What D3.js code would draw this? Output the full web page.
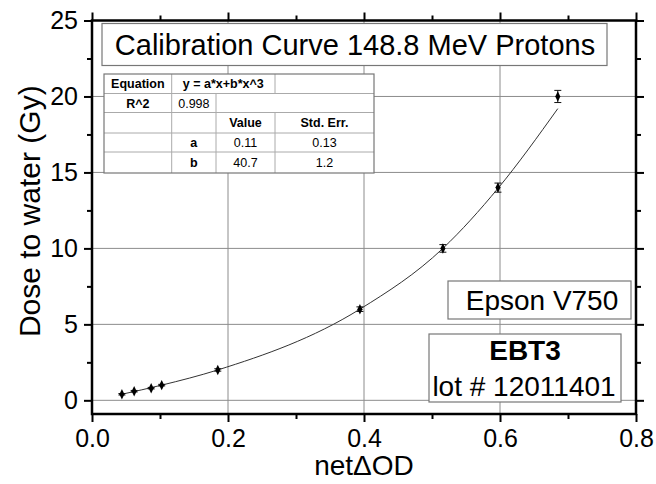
<!DOCTYPE html>
<html><head><meta charset="utf-8">
<script src="https://cdn.jsdelivr.net/npm/d3@7"></script>
<style>
body{margin:0;background:#fff}
svg{display:block}
text{font-family:"Liberation Sans",Arial,Helvetica,sans-serif;fill:#000}
</style>
</head><body>
<svg id="chart" width="656" height="484"></svg>
<script>
// ---- data ----
const netOD   = [0.044, 0.062, 0.087, 0.1025, 0.185, 0.394, 0.516, 0.597, 0.685];
const dose    = [0.4, 0.6, 0.8, 1.0, 2.0, 6.0, 10.0, 14.0, 20.0];
const doseErr = [0.05, 0.05, 0.05, 0.05, 0.08, 0.15, 0.25, 0.3, 0.4];
const fitOD   = [0.044, 0.1025, 0.185, 0.394, 0.516, 0.597, 0.685];
const fitDose = [0.4, 1.0, 2.0, 6.0, 10.0, 13.95, 19.2];
const xTicks  = [0, 0.2, 0.4, 0.6, 0.8];
const xMinor  = [0.1, 0.3, 0.5, 0.7];
const yTicks  = [0, 5, 10, 15, 20, 25];
const yMinor  = [2.5, 7.5, 12.5, 17.5, 22.5];
const xTitle  = "net\u0394OD";
const yTitle  = "Dose to water (Gy)";
const titleText   = "Calibration Curve 148.8 MeV Protons";
const scannerText = "Epson V750";
const filmText    = "EBT3";
const lotText     = "lot # 12011401";
const tableRow0 = ["Equation", "y = a*x+b*x^3", ""];
const tableRow1 = ["R^2", "0.998", ""];
const tableRow2 = ["", "", "Value", "Std. Err."];
const tableRow3 = ["", "a", "0.11", "0.13"];
const tableRow4 = ["", "b", "40.7", "1.2"];

// ---- layout ----
const svg = d3.select("#chart");
const L = 92, R = 636, T = 20.5, B = 414;
const x = d3.scaleLinear().domain([0, 0.8]).range([L, R]);
const y = d3.scaleLinear().domain([-0.9, 25]).range([B, T]);

// grid
const grid = svg.append("g").attr("stroke", "#8c8c8c").attr("stroke-width", 1);
grid.selectAll(".gy").data(yTicks.filter(d => d < 25)).enter().append("line")
  .attr("x1", L).attr("x2", R).attr("y1", d => y(d)).attr("y2", d => y(d));
grid.selectAll(".gx").data(xTicks.filter(d => d > 0 && d < 0.8)).enter().append("line")
  .attr("y1", T).attr("y2", B).attr("x1", d => x(d)).attr("x2", d => x(d));

// axes
function styleAxis(g, fs) {
  g.select(".domain").remove();
  g.selectAll(".tick line").attr("stroke", "#000").attr("stroke-width", 2);
  g.selectAll(".tick text").attr("font-size", fs).style("font-family", '"Liberation Sans",Arial,sans-serif').attr("fill", "#000");
}
const fmt = d3.format(".1f");
svg.append("g").attr("transform", `translate(0,${B})`)
  .call(d3.axisBottom(x).tickValues(xTicks).tickSize(8).tickPadding(7).tickFormat(fmt))
  .call(g => styleAxis(g, 25));
svg.append("g").attr("transform", `translate(0,${B})`)
  .call(d3.axisBottom(x).tickValues(xMinor).tickSize(5).tickFormat(""))
  .call(g => styleAxis(g, 0));
svg.append("g").attr("transform", `translate(0,${T})`)
  .call(d3.axisTop(x).tickValues(xTicks).tickSize(8).tickFormat(""))
  .call(g => styleAxis(g, 0));
svg.append("g").attr("transform", `translate(0,${T})`)
  .call(d3.axisTop(x).tickValues(xMinor).tickSize(5).tickFormat(""))
  .call(g => styleAxis(g, 0));
svg.append("g").attr("transform", `translate(${L},0)`)
  .call(d3.axisLeft(y).tickValues(yTicks).tickSize(8).tickPadding(6).tickFormat(d3.format("d")))
  .call(g => styleAxis(g, 25));
svg.append("g").attr("transform", `translate(${L},0)`)
  .call(d3.axisLeft(y).tickValues(yMinor).tickSize(5).tickFormat(""))
  .call(g => styleAxis(g, 0));
svg.append("g").attr("transform", `translate(${R},0)`)
  .call(d3.axisRight(y).tickValues(yTicks).tickSize(8).tickFormat(""))
  .call(g => styleAxis(g, 0));
svg.append("g").attr("transform", `translate(${R},0)`)
  .call(d3.axisRight(y).tickValues(yMinor).tickSize(5).tickFormat(""))
  .call(g => styleAxis(g, 0));

// frame
svg.append("rect").attr("x", L).attr("y", T).attr("width", R - L).attr("height", B - T)
  .attr("fill", "none").attr("stroke", "#000").attr("stroke-width", 2.5);

// fit curve
const fitPts = fitOD.map((d, i) => [d, fitDose[i]]);
svg.append("path").datum(fitPts)
  .attr("d", d3.line().x(d => x(d[0])).y(d => y(d[1])).curve(d3.curveMonotoneX))
  .attr("fill", "none").attr("stroke", "#333").attr("stroke-width", 1);

// error bars + points
const pts = netOD.map((d, i) => ({x: d, y: dose[i], e: doseErr[i]}));
const eb = svg.append("g").attr("stroke", "#111").attr("stroke-width", 1);
pts.forEach(p => {
  eb.append("line").attr("x1", x(p.x)).attr("x2", x(p.x)).attr("y1", y(p.y - p.e)).attr("y2", y(p.y + p.e));
  [p.y - p.e, p.y + p.e].forEach(v => eb.append("line")
    .attr("x1", x(p.x) - 3.5).attr("x2", x(p.x) + 3.5).attr("y1", y(v)).attr("y2", y(v)));
});
svg.append("g").selectAll("path").data(pts).enter().append("path")
  .attr("d", d3.symbol(d3.symbolDiamond, 22))
  .attr("transform", d => `translate(${x(d.x)},${y(d.y)}) scale(1,1.2)`)
  .attr("fill", "#000");

// axis titles
svg.append("text").attr("transform", `translate(40,${(T + B) / 2 - 6}) rotate(-90)`)
  .attr("text-anchor", "middle").attr("font-size", 30).text(yTitle);
svg.append("text").attr("x", (L + R) / 2).attr("y", 475)
  .attr("text-anchor", "middle").attr("font-size", 28).text(xTitle);

// title box
function box(x0, y0, w, h) {
  svg.append("rect").attr("x", x0).attr("y", y0).attr("width", w).attr("height", h)
    .attr("fill", "#fff").attr("stroke", "#777").attr("stroke-width", 1.2);
}
box(102, 23.5, 505, 42);
svg.append("text").attr("x", 355).attr("y", 55).attr("text-anchor", "middle")
  .attr("font-size", 29).text(titleText);

// scanner box
box(448, 281, 183, 38);
svg.append("text").attr("x", 542).attr("y", 309.5).attr("text-anchor", "middle")
  .attr("font-size", 28).text(scannerText);

// film box
box(429, 334, 192, 68);
svg.append("text").attr("x", 525).attr("y", 359.5).attr("text-anchor", "middle")
  .attr("font-size", 28).attr("font-weight", "bold").text(filmText);
svg.append("text").attr("x", 524).attr("y", 395.5).attr("text-anchor", "middle")
  .attr("font-size", 28).text(lotText);

// fit parameter table
const cx = [104, 171.7, 216, 275, 374];
const ry = [74, 93.5, 112.5, 133, 152, 173];
const tg = svg.append("g");
tg.append("rect").attr("x", cx[0]).attr("y", ry[0]).attr("width", cx[4] - cx[0]).attr("height", ry[5] - ry[0])
  .attr("fill", "#fff");
const inner = tg.append("g").attr("stroke", "#aaa").attr("stroke-width", 1);
for (let r = 1; r < 5; r++) inner.append("line").attr("x1", cx[0]).attr("x2", cx[4]).attr("y1", ry[r]).attr("y2", ry[r]);
const vlines = [[1, 3], [1, 2], [1, 2, 3], [1, 2, 3], [1, 2, 3]];
vlines.forEach((cols, r) => cols.forEach(c => inner.append("line")
  .attr("x1", cx[c]).attr("x2", cx[c]).attr("y1", ry[r]).attr("y2", ry[r + 1])));
tg.append("rect").attr("x", cx[0]).attr("y", ry[0]).attr("width", cx[4] - cx[0]).attr("height", ry[5] - ry[0])
  .attr("fill", "none").attr("stroke", "#777").attr("stroke-width", 1.2);
function cell(txt, c0, c1, r, bold) {
  if (!txt) return;
  tg.append("text").attr("x", (cx[c0] + cx[c1]) / 2).attr("y", (ry[r] + ry[r + 1]) / 2 + 4.5)
    .attr("text-anchor", "middle").attr("font-size", 12.5)
    .attr("font-weight", bold ? "bold" : "normal").text(txt);
}
cell(tableRow0[0], 0, 1, 0, true); cell(tableRow0[1], 1, 3, 0, true); cell(tableRow0[2], 3, 4, 0, false);
cell(tableRow1[0], 0, 1, 1, true); cell(tableRow1[1], 1, 2, 1, false); cell(tableRow1[2], 2, 4, 1, false);
[tableRow2, tableRow3, tableRow4].forEach((row, k) => {
  const r = k + 2;
  row.forEach((t, c) => cell(t, c, c + 1, r, r === 2 ? c >= 2 : c === 1));
});
</script>
</body></html>
